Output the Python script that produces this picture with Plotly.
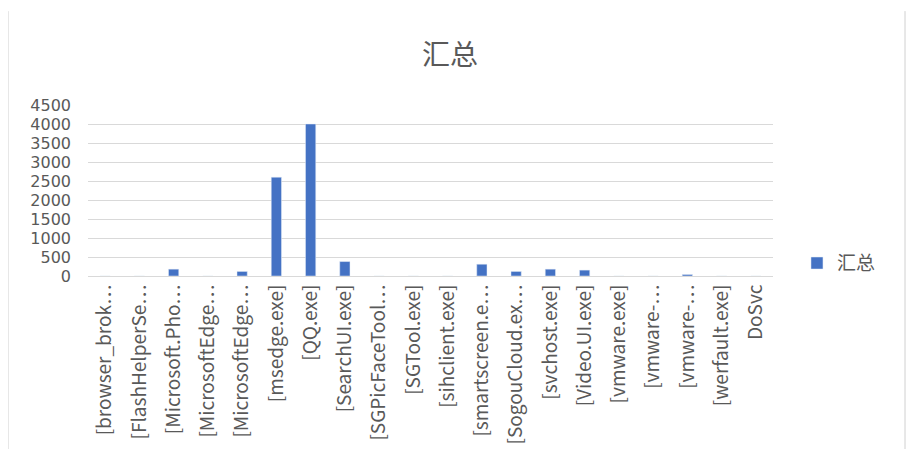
import plotly.graph_objects as go

# process names as shown on the axis (Excel truncates the long ones)
labels = ["[browser_brok…", "[FlashHelperSe…", "[Microsoft.Pho…", "[MicrosoftEdge…",
          "[MicrosoftEdge…", "[msedge.exe]", "[QQ.exe]", "[SearchUI.exe]",
          "[SGPicFaceTool…", "[SGTool.exe]", "[sihclient.exe]", "[smartscreen.e…",
          "[SogouCloud.ex…", "[svchost.exe]", "[Video.UI.exe]", "[vmware.exe]",
          "[vmware-…", "[vmware-…", "[werfault.exe]", "DoSvc"]
totals = [0, 0, 180, 0, 120, 2600, 4000, 380, 0, 0, 0, 310, 120, 180, 155, 0, 0, 40, 0, 0]
y_ticks = [0, 500, 1000, 1500, 2000, 2500, 3000, 3500, 4000, 4500]

font = "Noto Sans CJK SC, Noto Sans, sans-serif"
grey = "#595959"
idx = list(range(len(labels)))

fig = go.Figure()
fig.add_trace(go.Bar(x=idx, y=totals, name="汇总", marker_color="#4472C4"))

# chart area frame (left / right edges)
for px in (0, 897):
    fig.add_shape(type="line", xref="paper", yref="paper",
                  x0=(px - 80) / 685, x1=(px - 80) / 685, y0=-1.2, y1=(270 - 2) / 173,
                  line=dict(color="#d0d0d0", width=1))

fig.update_xaxes(tickvals=idx, ticktext=labels, tickangle=-90, range=[-0.5, len(labels) - 0.5],
                 showgrid=False, showline=True, linecolor="#d9d9d9", ticks="",
                 tickfont=dict(family=font, size=19, color=grey))
fig.update_yaxes(range=[0, 4500], tickvals=y_ticks, showgrid=True, gridcolor="#d9d9d9",
                 zeroline=False, ticklabelstandoff=16,
                 tickfont=dict(family="DejaVu Sans", size=16, color=grey))
fig.update_layout(
    width=916, height=449,
    margin=dict(l=80, r=151, t=97, b=179),
    bargap=0.7,
    plot_bgcolor="white", paper_bgcolor="white",
    title=dict(text="汇总", x=442 / 916, xanchor="center", y=(449 - 47) / 449, yanchor="middle",
               font=dict(family=font, size=28, color=grey)),
    showlegend=True,
    legend=dict(x=1.035, y=0.075, yanchor="middle", xanchor="left", itemwidth=30,
                font=dict(family=font, size=19, color=grey)),
)
fig.write_html("out.html")
